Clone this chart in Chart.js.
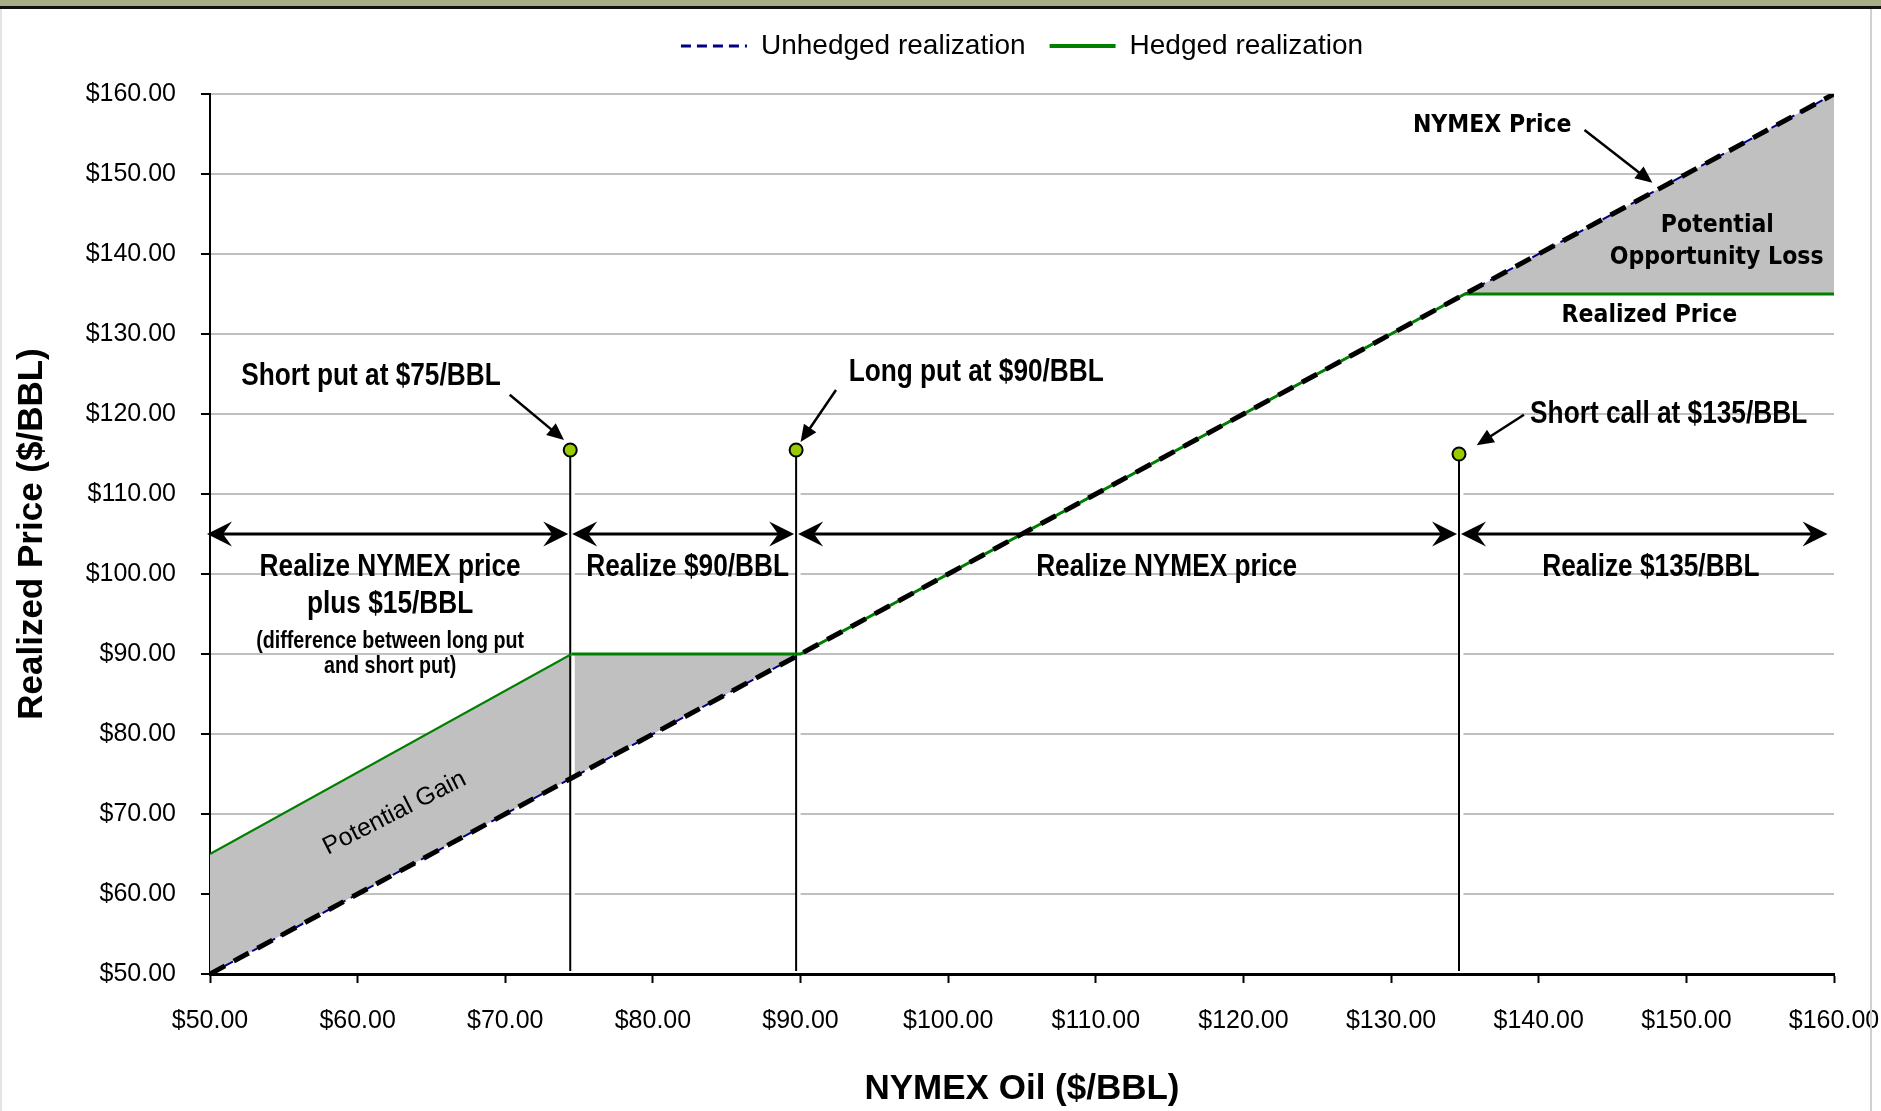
<!DOCTYPE html>
<html>
<head>
<meta charset="utf-8">
<title>Collar hedge - realized price</title>
<script src="https://cdn.jsdelivr.net/npm/chart.js@4.4.1/dist/chart.umd.min.js"></script>
<style>
  html, body { margin: 0; padding: 0; background: #fff; }
  #wrap { position: relative; width: 1881px; height: 1111px; overflow: hidden; }
  #band { position: absolute; left: 0; top: 0; width: 100%; height: 6px; background: #a8ad86; }
  #rule { position: absolute; left: 0; top: 6px; width: 100%; height: 3px; background: #111; }
  #edgeL { position: absolute; left: 0; top: 9px; bottom: 0; width: 2px; background: #e4e4e4; }
  #edgeR { position: absolute; left: 1870px; top: 9px; bottom: 0; width: 2px; background: #d0d0d0; }
  canvas { position: absolute; left: 0; top: 0; }
</style>
</head>
<body>
<div id="wrap">
  <canvas id="chart" width="1881" height="1111"></canvas>
  <div id="band"></div><div id="rule"></div><div id="edgeL"></div><div id="edgeR"></div>
</div>
<script>
// ------------------------ Data ------------------------
const oilX       = [50, 74.5, 90, 135, 160];   // NYMEX oil $/BBL
const unhedgedY  = [50, 74.5, 90, 135, 160];   // unhedged = NYMEX price
const hedgedY    = [65, 90, 90, 135, 135];     // collar payoff
const strikeX    = [74.4, 89.7, 134.6];        // short put, long put, short call
const strikeDotY = [115.5, 115.5, 115.0];
const zoneEdges  = [50, 74.4, 89.7, 134.6, 159.7];
const xTicks     = [50, 60, 70, 80, 90, 100, 110, 120, 130, 140, 150, 160];
const yTicks     = [50, 60, 70, 80, 90, 100, 110, 120, 130, 140, 150, 160];

// ------------------------ Fonts / helpers ------------------------------------
// no Arial Narrow here, so the notes get squeezed by hand (sq)
const SANS = '"Liberation Sans", Arial, sans-serif';
const TAHOMA = '"DejaVu Sans Condensed", "DejaVu Sans", sans-serif';
const money = v => '$' + Number(v).toFixed(2);
const pts = (xs, ys) => xs.map((x, i) => ({x: x, y: ys[i]}));

// text notes, placed in data units
const notes = [
  {t: 'Short put at $75/BBL',   x: 60.9,  y: 124.75, f: 'bold 32px ' + SANS, sq: 0.82},
  {t: 'Long put at $90/BBL',    x: 101.9, y: 125.2,  f: 'bold 32px ' + SANS, sq: 0.82},
  {t: 'Short call at $135/BBL', x: 148.8, y: 120.0,  f: 'bold 32px ' + SANS, sq: 0.82},
  {t: 'Realize NYMEX price',    x: 62.2,  y: 100.9,  f: 'bold 32px ' + SANS, sq: 0.82},
  {t: 'plus $15/BBL',           x: 62.2,  y: 96.25,  f: 'bold 32px ' + SANS, sq: 0.82},
  {t: '(difference between long put', x: 62.2, y: 91.6, f: 'bold 24px ' + SANS, sq: 0.82},
  {t: 'and short put)',         x: 62.2,  y: 88.5,   f: 'bold 24px ' + SANS, sq: 0.82},
  {t: 'Realize $90/BBL',        x: 82.35, y: 100.9,  f: 'bold 32px ' + SANS, sq: 0.82},
  {t: 'Realize NYMEX price',    x: 114.8, y: 100.9,  f: 'bold 32px ' + SANS, sq: 0.82},
  {t: 'Realize $135/BBL',       x: 147.6, y: 100.9,  f: 'bold 32px ' + SANS, sq: 0.82},
  {t: 'NYMEX Price',            x: 136.85, y: 156.0, f: 'bold 24.5px ' + TAHOMA},
  {t: 'Potential',              x: 152.1, y: 143.6,  f: 'bold 24.5px ' + TAHOMA},
  {t: 'Opportunity Loss',       x: 152.05, y: 139.6, f: 'bold 24.5px ' + TAHOMA},
  {t: 'Realized Price',         x: 147.5, y: 132.25, f: 'bold 24.5px ' + TAHOMA},
  {t: 'Potential Gain',         x: 62.5,  y: 70.1,   f: '25px ' + SANS, rot: -27}
];
// pointer arrows [fromX, fromY, toX, toY] in data units
const pointers = [
  [70.3, 122.4, 73.98, 116.75],
  [92.4, 123.0, 90.0, 116.5],
  [139.0, 119.9, 135.8, 116.1],
  [143.1, 155.5, 147.7, 148.9]
];

function arrowHead(ctx, tx, ty, ang, len, half, notch){
  ctx.save();
  ctx.translate(tx, ty);
  ctx.rotate(ang);
  ctx.beginPath();
  ctx.moveTo(0, 0);
  ctx.lineTo(-len, -half);
  ctx.lineTo(-notch, 0);
  ctx.lineTo(-len, half);
  ctx.closePath();
  ctx.fill();
  ctx.restore();
}

// ------------------------ Drawing extras -------------------------------------
const overlay = {
  id: 'overlay',
  afterInit(chart){
    // leave extra room between legend and plot
    const legend = chart.legend;
    const fit = legend.fit;
    legend.fit = function(){ fit.call(this); this.height += 24; };
  },
  beforeDatasetsDraw(chart){
    const {ctx, scales: {x, y}} = chart;
    ctx.save();
    strikeX.forEach((v, i) => {
      const px = x.getPixelForValue(v);
      const top = y.getPixelForValue(strikeDotY[i]);
      const bottom = y.getPixelForValue(50) - 3;
      // thin white gap next to the strike line, like the source
      ctx.strokeStyle = '#fff';
      ctx.lineWidth = 4;
      ctx.beginPath(); ctx.moveTo(px + 2.5, top); ctx.lineTo(px + 2.5, bottom); ctx.stroke();
      ctx.strokeStyle = '#000';
      ctx.lineWidth = 2;
      ctx.beginPath(); ctx.moveTo(px, top); ctx.lineTo(px, bottom); ctx.stroke();
    });
    ctx.restore();
  },
  afterDatasetsDraw(chart){
    const {ctx, scales: {x, y}} = chart;
    ctx.save();
    ctx.fillStyle = '#000';
    ctx.strokeStyle = '#000';

    // double-headed zone arrows
    const ay = y.getPixelForValue(105);
    ctx.lineWidth = 3;
    for (let i = 0; i < zoneEdges.length - 1; i++){
      const a = x.getPixelForValue(zoneEdges[i]) + (i === 0 ? -3 : 2);
      const b = x.getPixelForValue(zoneEdges[i+1]) - 2;
      ctx.beginPath(); ctx.moveTo(a + 10, ay); ctx.lineTo(b - 10, ay); ctx.stroke();
      arrowHead(ctx, a, ay, Math.PI, 25, 12.5, 16);
      arrowHead(ctx, b, ay, 0, 25, 12.5, 16);
    }

    // pointer arrows
    ctx.lineWidth = 2.5;
    pointers.forEach(p => {
      const x1 = x.getPixelForValue(p[0]), y1 = y.getPixelForValue(p[1]);
      const x2 = x.getPixelForValue(p[2]), y2 = y.getPixelForValue(p[3]);
      const ang = Math.atan2(y2 - y1, x2 - x1);
      ctx.beginPath();
      ctx.moveTo(x1, y1);
      ctx.lineTo(x2 - Math.cos(ang) * 10, y2 - Math.sin(ang) * 10);
      ctx.stroke();
      arrowHead(ctx, x2, y2, ang, 17, 7.5, 17);
    });

    // text
    ctx.textAlign = 'center';
    ctx.textBaseline = 'middle';
    notes.forEach(n => {
      ctx.save();
      ctx.font = n.f;
      ctx.translate(x.getPixelForValue(n.x), y.getPixelForValue(n.y));
      if (n.rot) ctx.rotate(n.rot * Math.PI / 180);
      if (n.sq) ctx.scale(n.sq, 1);
      ctx.fillText(n.t, 0, 0);
      ctx.restore();
    });
    ctx.restore();
  }
};

// ------------------------ Chart ----------------------------------------------
const chart = new Chart(document.getElementById('chart'), {
  type: 'line',
  data: {
    datasets: [
      {
        label: 'Unhedged realization',
        data: pts(oilX, unhedgedY),
        borderColor: '#000080', borderWidth: 2, borderDash: [10, 6],
        pointRadius: 0, pointStyle: 'line', order: 3, fill: false
      },
      {
        label: 'Hedged realization',
        data: pts(oilX, hedgedY),
        borderColor: '#008000', borderWidth: 3,
        segment: { borderWidth: c => c.p0DataIndex === 0 ? 2 : 3 },
        pointRadius: 0, pointStyle: 'line', order: 2,
        fill: {target: 0, above: '#c0c0c0', below: '#c0c0c0'}
      },
      {
        label: 'NYMEX Price',
        data: pts(oilX, unhedgedY),
        borderColor: '#000', borderWidth: 5, borderDash: [17, 10],
        pointRadius: 0, order: 1, fill: false
      },
      {
        label: 'Strikes',
        data: pts(strikeX, strikeDotY),
        showLine: false, order: 0,
        pointRadius: 6.5, pointBackgroundColor: '#99cc00',
        pointBorderColor: '#000', pointBorderWidth: 2
      }
    ]
  },
  options: {
    responsive: false,
    animation: false,
    events: [],
    layout: { padding: { top: 8, right: 47, left: 0, bottom: 0 } },
    scales: {
      x: {
        type: 'linear', min: 50, max: 160,
        afterBuildTicks: s => { s.ticks = xTicks.map(v => ({value: v})); },
        afterFit: s => { s.height = 137; s.paddingRight = 0; },
        grid: { drawOnChartArea: false, drawTicks: true, tickLength: 9, tickColor: '#000', tickWidth: 2 },
        border: { color: '#000', width: 3 },
        ticks: {
          callback: money, color: '#000', padding: 23,
          maxRotation: 0, autoSkip: false,
          font: { family: SANS, size: 25 }
        },
        title: {
          display: true, text: 'NYMEX Oil ($/BBL)', color: '#000',
          font: { family: SANS, size: 35, weight: 'bold', lineHeight: 1 },
          padding: { top: 0, bottom: 4 }
        }
      },
      y: {
        type: 'linear', min: 50, max: 160,
        afterBuildTicks: s => { s.ticks = yTicks.map(v => ({value: v})); },
        afterFit: s => { s.width = 210; },
        grid: { color: '#c0c0c0', lineWidth: 2, drawTicks: true, tickLength: 9, tickColor: '#000', tickWidth: 2 },
        border: { color: '#000', width: 2 },
        ticks: {
          callback: money, color: '#000', padding: 25,
          font: { family: SANS, size: 25 }
        },
        title: {
          display: true, text: 'Realized Price ($/BBL)', color: '#000',
          font: { family: SANS, size: 35, weight: 'bold', lineHeight: 1 },
          padding: { top: 15, bottom: 0 }
        }
      }
    },
    plugins: {
      filler: { drawTime: 'beforeDatasetsDraw' },
      tooltip: { enabled: false },
      legend: {
        position: 'top', fullSize: false,
        labels: {
          usePointStyle: true, pointStyleWidth: 66, boxWidth: 66,
          padding: 24, color: '#000',
          font: { family: SANS, size: 28 },
          filter: item => item.datasetIndex < 2,
          sort: (a, b) => a.datasetIndex - b.datasetIndex,
          generateLabels: c => Chart.defaults.plugins.legend.labels.generateLabels(c).map(item => {
            const ds = c.data.datasets[item.datasetIndex];
            item.lineDash = ds.borderDash || [];
            item.lineWidth = ds.borderWidth + 1;
            return item;
          })
        }
      }
    }
  },
  plugins: [overlay]
});
</script>
</body>
</html>
